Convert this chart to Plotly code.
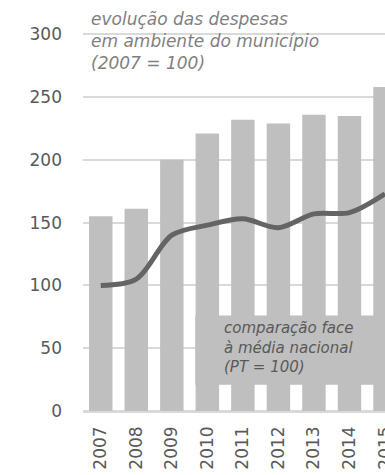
import plotly.graph_objects as go

# anos e índices (2007 = 100 / PT = 100)
anos = ['2007', '2008', '2009', '2010', '2011', '2012', '2013', '2014', '2015']
despesas = [155, 161, 200, 221, 232, 229, 236, 235, 258]
comparacao = [100, 105, 140, 148, 153, 146, 157, 158, 173]
y_ticks = [0, 50, 100, 150, 200, 250, 300]

tick_font = dict(family='DejaVu Sans', size=17, color='#595959')

fig = go.Figure()
fig.add_trace(go.Bar(
    x=list(range(len(anos))), y=despesas,
    marker=dict(color='#bfbfbf', line=dict(width=0)),
    hoverinfo='skip',
))
fig.add_trace(go.Scatter(
    x=list(range(len(anos))), y=comparacao,
    mode='lines',
    line=dict(color='#646464', width=5, shape='spline', smoothing=0.9),
    hoverinfo='skip',
))

# fundo da nota inferior
fig.add_shape(type='rect', xref='x', yref='y',
              x0=2.66, x1=9, y0=21, y1=76,
              fillcolor='#bfbfbf', line=dict(width=0), layer='above')

fig.add_annotation(
    text='evolução das despesas<br>em ambiente do município<br>(2007 = 100)',
    xref='paper', yref='paper', x=0.02, y=1.068,
    xanchor='left', yanchor='top', align='left', showarrow=False,
    font=dict(family='DejaVu Sans', size=17, color='#7f7f7f', style='italic'),
)
fig.add_annotation(
    text='comparação face<br>à média nacional<br>(PT = 100)',
    xref='x', yref='y', x=3.42, y=75,
    xanchor='left', yanchor='top', align='left', showarrow=False,
    font=dict(family='DejaVu Sans', size=15, color='#595959', style='italic'),
)

fig.update_layout(
    width=385, height=475,
    margin=dict(l=83, r=0, t=33, b=64),
    paper_bgcolor='white', plot_bgcolor='white',
    showlegend=False, bargap=0.34,
)
fig.update_xaxes(
    range=[-0.5, 8.0], tickvals=list(range(len(anos))), ticktext=anos,
    tickangle=-90, tickfont=tick_font, showgrid=False, showline=False,
    ticks='', ticklabelstandoff=11, ticklabeloverflow='allow',
    fixedrange=True, automargin=False,
)
fig.update_yaxes(
    range=[0, 301], tickvals=y_ticks, tickfont=tick_font,
    showgrid=True, gridcolor='#d9d9d9', gridwidth=2,
    zeroline=True, zerolinecolor='#d9d9d9', zerolinewidth=3,
    showline=False, ticks='', ticklabelstandoff=20, fixedrange=True,
    automargin=False,
)

# sem margem do body nem barras de deslocamento
post = ("document.body.style.margin='0';"
        "document.body.style.overflow='hidden';"
        "document.documentElement.style.overflow='hidden';")
fig.write_html('out.html', config={'displayModeBar': False}, post_script=post)
